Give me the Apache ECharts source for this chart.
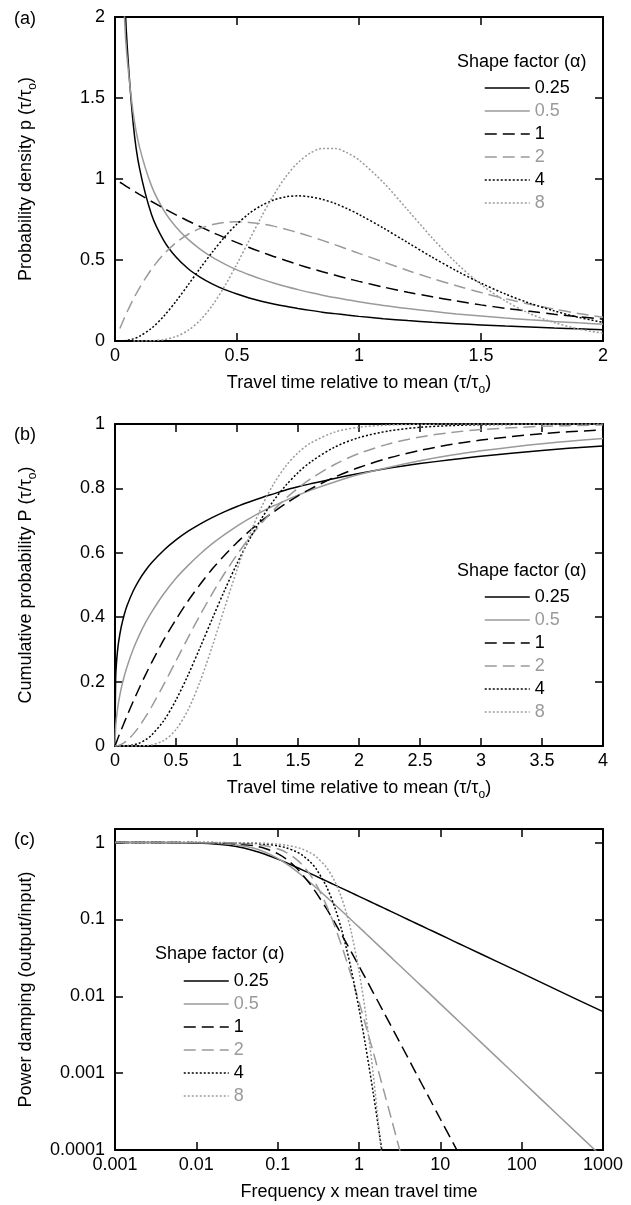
<!DOCTYPE html>
<html>
<head>
<meta charset="utf-8">
<script src="https://cdn.jsdelivr.net/npm/echarts@6/dist/echarts.min.js"></script>
<style>
  html, body { margin: 0; padding: 0; background: #fff; }
  #chart { width: 631px; height: 1205px; }
</style>
</head>
<body>
<div id="chart"></div>
<script>
// shape factors (alpha), one curve per value in every panel
const shapes = ['0.25', '0.5', '1', '2', '4', '8']

// (a) probability density vs travel time relative to mean
const tauA = [0.02, 0.04, 0.05, 0.075, 0.1, 0.15, 0.2, 0.25, 0.3, 0.35, 0.4, 0.45, 0.5, 0.55, 0.6, 0.65, 0.7, 0.75, 0.8, 0.85, 0.9, 0.95, 1.0, 1.1, 1.2, 1.3, 1.4, 1.5, 1.6, 1.7, 1.8, 1.9, 2.0]
const pdf025 = [3.648, 2.159, 1.821, 1.336, 1.070, 0.779, 0.620, 0.518, 0.446, 0.393, 0.351, 0.317, 0.290, 0.266, 0.246, 0.229, 0.214, 0.201, 0.189, 0.178, 0.169, 0.160, 0.152, 0.138, 0.126, 0.116, 0.107, 0.099, 0.092, 0.086, 0.080, 0.075, 0.070]
const pdf05 = [2.793, 1.955, 1.740, 1.403, 1.200, 0.956, 0.807, 0.704, 0.627, 0.566, 0.516, 0.475, 0.439, 0.409, 0.382, 0.358, 0.336, 0.317, 0.299, 0.283, 0.268, 0.255, 0.242, 0.219, 0.200, 0.183, 0.167, 0.154, 0.142, 0.131, 0.121, 0.112, 0.104]
const pdf1 = [0.980, 0.961, 0.951, 0.928, 0.905, 0.861, 0.819, 0.779, 0.741, 0.705, 0.670, 0.638, 0.607, 0.577, 0.549, 0.522, 0.497, 0.472, 0.449, 0.427, 0.407, 0.387, 0.368, 0.333, 0.301, 0.273, 0.247, 0.223, 0.202, 0.183, 0.165, 0.150, 0.135]
const pdf2 = [0.077, 0.148, 0.181, 0.258, 0.327, 0.444, 0.536, 0.607, 0.659, 0.695, 0.719, 0.732, 0.736, 0.732, 0.723, 0.709, 0.690, 0.669, 0.646, 0.621, 0.595, 0.568, 0.541, 0.488, 0.435, 0.386, 0.341, 0.299, 0.261, 0.227, 0.197, 0.170, 0.147]
const pdf4 = [0.0003, 0.0023, 0.0044, 0.0133, 0.0286, 0.079, 0.153, 0.245, 0.347, 0.451, 0.551, 0.643, 0.722, 0.787, 0.836, 0.870, 0.890, 0.896, 0.890, 0.874, 0.850, 0.818, 0.781, 0.697, 0.607, 0.517, 0.433, 0.357, 0.290, 0.233, 0.186, 0.146, 0.115]
const pdf8 = [null, null, null, 0.00002, 0.0002, 0.0017, 0.0086, 0.0275, 0.066, 0.130, 0.222, 0.340, 0.476, 0.622, 0.767, 0.900, 1.014, 1.101, 1.160, 1.189, 1.189, 1.163, 1.117, 0.978, 0.808, 0.636, 0.480, 0.349, 0.247, 0.169, 0.114, 0.074, 0.048]

// (b) cumulative probability
const tauB = [0, 0.005, 0.01, 0.02, 0.03, 0.05, 0.075, 0.1, 0.15, 0.2, 0.25, 0.3, 0.4, 0.5, 0.6, 0.7, 0.8, 0.9, 1.0, 1.1, 1.2, 1.3, 1.4, 1.5, 1.6, 1.8, 2.0, 2.25, 2.5, 2.75, 3.0, 3.5, 4.0]
const cdf025 = [0, 0.207, 0.247, 0.293, 0.324, 0.368, 0.407, 0.437, 0.482, 0.517, 0.545, 0.569, 0.608, 0.640, 0.667, 0.690, 0.710, 0.728, 0.744, 0.758, 0.771, 0.783, 0.795, 0.805, 0.814, 0.831, 0.846, 0.863, 0.877, 0.889, 0.900, 0.918, 0.932]
const cdf05 = [0, 0.056, 0.080, 0.112, 0.138, 0.177, 0.216, 0.248, 0.301, 0.345, 0.383, 0.416, 0.473, 0.521, 0.561, 0.597, 0.629, 0.657, 0.683, 0.706, 0.727, 0.746, 0.763, 0.779, 0.794, 0.820, 0.843, 0.866, 0.886, 0.903, 0.917, 0.939, 0.955]
const cdf1 = [0, 0.005, 0.010, 0.020, 0.030, 0.049, 0.072, 0.095, 0.139, 0.181, 0.221, 0.259, 0.330, 0.393, 0.451, 0.503, 0.551, 0.593, 0.632, 0.667, 0.699, 0.727, 0.753, 0.777, 0.798, 0.835, 0.865, 0.895, 0.918, 0.936, 0.950, 0.970, 0.982]
const cdf2 = [0, 0.0001, 0.0002, 0.0008, 0.0017, 0.0047, 0.0102, 0.0175, 0.0369, 0.0616, 0.0902, 0.1219, 0.1912, 0.2642, 0.3374, 0.4082, 0.4751, 0.5372, 0.5940, 0.6454, 0.6916, 0.7326, 0.7689, 0.8009, 0.8288, 0.8743, 0.9084, 0.9389, 0.9596, 0.9734, 0.9827, 0.9927, 0.9970]
const cdf4 = [0, 0, 0, 0, 0, 0.0001, 0.0003, 0.0008, 0.0034, 0.0091, 0.0190, 0.0338, 0.0788, 0.1429, 0.2213, 0.3081, 0.3975, 0.4848, 0.5665, 0.6406, 0.7058, 0.7619, 0.8094, 0.8488, 0.8811, 0.9281, 0.9576, 0.9788, 0.9897, 0.9951, 0.9977, 0.9995, 0.9999]
const cdf8 = [0, 0, 0, 0, 0, 0, 0, 0, 0, 0.0003, 0.0011, 0.0033, 0.0168, 0.0511, 0.1133, 0.2030, 0.3127, 0.4311, 0.5470, 0.6522, 0.7416, 0.8137, 0.8693, 0.9105, 0.9401, 0.9747, 0.9900, 0.9971, 0.9992, 0.9998, 1.0, 1.0, 1.0]

// (c) power damping vs frequency x mean travel time (log-log)
const freqC = [0.001, 0.003, 0.01, 0.02, 0.03, 0.05, 0.07, 0.1, 0.13, 0.17, 0.2, 0.25, 0.3, 0.4, 0.5, 0.6, 0.7, 0.8, 1, 1.2, 1.5, 2, 2.5, 3, 4, 5, 7, 10, 15, 20, 50, 100, 300, 1000]
const pow025 = [1.0, 0.9986, 0.9848, 0.9452, 0.8936, 0.7891, 0.7030, 0.6080, 0.5410, 0.4773, 0.4417, 0.3964, 0.3626, 0.3146, 0.2817, 0.2572, 0.2382, 0.2229, 0.1994, 0.1821, 0.1628, 0.1411, 0.1262, 0.1152, 0.0997, 0.0892, 0.0754, 0.0631, 0.0515, 0.0446, 0.0282, 0.0200, 0.0115, 0.0063]
const pow05 = [0.9999, 0.9993, 0.9922, 0.9698, 0.9357, 0.8467, 0.7508, 0.6227, 0.5221, 0.4240, 0.3697, 0.3033, 0.2564, 0.1951, 0.1572, 0.1315, 0.1130, 0.0990, 0.0793, 0.0662, 0.0530, 0.0398, 0.0318, 0.0265, 0.0199, 0.0159, 0.0114, 0.00796, 0.00531, 0.00398, 0.00159, 0.000796, 0.000265, 0.0000796]
const pow1 = [1.0, 0.9996, 0.9961, 0.9845, 0.9657, 0.9102, 0.8379, 0.7170, 0.5998, 0.4671, 0.3877, 0.2884, 0.2196, 0.1367, 0.0920, 0.0657, 0.0492, 0.0381, 0.0247, 0.0173, 0.0111, 0.00629, 0.00404, 0.00281, 0.00158, 0.00101, 0.000517, 0.000253, 0.000113, 0.0000633, 0.0000101, null, null, null]
const pow2 = [1.0, 0.9998, 0.9980, 0.9922, 0.9825, 0.9524, 0.9099, 0.8284, 0.7345, 0.6054, 0.5140, 0.3825, 0.2805, 0.1503, 0.0832, 0.0482, 0.0294, 0.0187, 0.00846, 0.00432, 0.00186, 0.000610, 0.000255, 0.000124, 0.0000396, null, null, null, null, null, null, null, null, null]
const pow4 = [1.0, 0.9999, 0.9990, 0.9961, 0.9912, 0.9757, 0.9531, 0.9071, 0.8492, 0.7592, 0.6863, 0.5634, 0.4483, 0.2642, 0.1463, 0.0787, 0.0420, 0.0226, 0.00692, 0.00233, 0.000543, 0.0000716, 0.0000138, null, null, null, null, null, null, null, null, null, null, null]
const pow8 = [1.0, 1.0, 0.9995, 0.9980, 0.9956, 0.9878, 0.9761, 0.9520, 0.9204, 0.8682, 0.8228, 0.7389, 0.6491, 0.4710, 0.3175, 0.2010, 0.1209, 0.0698, 0.0214, 0.00619, 0.000946, 0.0000479, null, null, null, null, null, null, null, null, null, null, null, null]

const FONT = "'Liberation Sans', Arial, Helvetica, sans-serif"
const BLACK = '#000'
const GRAY = '#9a9a9a'

const shapeStyle = {
  '0.25': { color: BLACK, type: 'solid' },
  '0.5': { color: GRAY, type: 'solid' },
  '1': { color: BLACK, type: [12, 6] },
  '2': { color: GRAY, type: [12, 6] },
  '4': { color: BLACK, type: [2, 2] },
  '8': { color: GRAY, type: [2, 2] }
}

const panels = [
  { x: tauA, ys: [pdf025, pdf05, pdf1, pdf2, pdf4, pdf8] },
  { x: tauB, ys: [cdf025, cdf05, cdf1, cdf2, cdf4, cdf8] },
  { x: freqC, ys: [pow025, pow05, pow1, pow2, pow4, pow8] }
]

const grids = [
  { left: 115, top: 17, width: 488, height: 324 },
  { left: 115, top: 424, width: 488, height: 322 },
  { left: 115, top: 829, width: 488, height: 321 }
]

const nameRich = {
  t: { fontSize: 18, fontFamily: FONT, color: BLACK, lineHeight: 26 },
  s: { fontSize: 12, fontFamily: FONT, color: BLACK, lineHeight: 12, verticalAlign: 'bottom' }
}

const frameLine = { show: true, onZero: false, lineStyle: { color: BLACK, width: 2 } }
const tickIn = { show: true, inside: true, length: 8, lineStyle: { color: BLACK, width: 1.5 } }
const labelStyle = { color: BLACK, fontSize: 18, fontFamily: FONT }

const logLabel = v => {
  const e = Math.log10(v)
  if (Math.abs(e - Math.round(e)) > 1e-6) return ''
  return String(+Number(v).toPrecision(6))
}

const xRanges = [
  { type: 'value', min: 0, max: 2, interval: 0.5 },
  { type: 'value', min: 0, max: 4, interval: 0.5 },
  { type: 'log', min: 0.001, max: 1000, logBase: 10 }
]
const yRanges = [
  { type: 'value', min: 0, max: 2, interval: 0.5 },
  { type: 'value', min: 0, max: 1, interval: 0.2 },
  { type: 'log', min: 0.0001, max: 1.5, logBase: 10 }
]
const xNames = [
  '{t|Travel time relative to mean (τ/τ}{s|o}{t|)}',
  '{t|Travel time relative to mean (τ/τ}{s|o}{t|)}',
  '{t|Frequency x mean travel time}'
]
const yNames = [
  '{t|Probability density p (τ/τ}{s|o}{t|)}',
  '{t|Cumulative probability P (τ/τ}{s|o}{t|)}',
  '{t|Power damping (output/input)}'
]

const xAxis = []
const yAxis = []
grids.forEach((g, i) => {
  const isLog = i === 2
  xAxis.push({
    ...xRanges[i], gridIndex: i, position: 'bottom',
    name: xNames[i], nameLocation: 'middle', nameGap: 29,
    nameTextStyle: { rich: nameRich },
    axisLine: frameLine, axisTick: tickIn, splitLine: { show: false },
    axisLabel: { ...labelStyle, margin: 6, formatter: isLog ? logLabel : null }
  })
  xAxis.push({
    ...xRanges[i], gridIndex: i, position: 'top',
    axisLine: frameLine, axisTick: tickIn, splitLine: { show: false },
    axisLabel: { show: false }
  })
  yAxis.push({
    ...yRanges[i], gridIndex: i, position: 'left',
    name: yNames[i], nameLocation: 'middle', nameGap: 76, nameRotate: 90,
    nameTextStyle: { rich: nameRich },
    axisLine: frameLine, axisTick: tickIn, splitLine: { show: false },
    axisLabel: { ...labelStyle, margin: 10, formatter: isLog ? logLabel : null }
  })
  yAxis.push({
    ...yRanges[i], gridIndex: i, position: 'right',
    axisLine: frameLine, axisTick: tickIn, splitLine: { show: false },
    axisLabel: { show: false }
  })
})

const series = []
panels.forEach((p, i) => {
  shapes.forEach((s, k) => {
    series.push({
      name: s,
      type: 'line',
      xAxisIndex: i * 2,
      yAxisIndex: i * 2,
      showSymbol: false,
      symbol: 'none',
      smooth: 0.3,
      clip: true,
      lineStyle: { color: shapeStyle[s].color, type: shapeStyle[s].type, width: 1.5 },
      itemStyle: { color: shapeStyle[s].color },
      data: p.x.map((x, j) => [x, p.ys[k][j]])
    })
  })
})

const makeLegend = (left, top) => ({
  left, top, orient: 'vertical', padding: 0,
  itemWidth: 45, itemHeight: 14, itemGap: 5,
  selectedMode: false,
  itemStyle: { opacity: 0 },
  lineStyle: { width: 'inherit' },
  textStyle: { fontSize: 18, fontFamily: FONT },
  data: shapes.map(s => ({ name: s, textStyle: { color: shapeStyle[s].color } }))
})

const makeText = (text, left, top) => ({
  text, left, top, padding: 0,
  textStyle: { fontSize: 18, fontWeight: 'normal', fontFamily: FONT, color: BLACK }
})

const chart = echarts.init(document.getElementById('chart'))
chart.setOption({
  animation: false,
  backgroundColor: '#fff',
  title: [
    makeText('(a)', 14, 10),
    makeText('(b)', 14, 426),
    makeText('(c)', 14, 831),
    makeText('Shape factor (α)', 457, 53),
    makeText('Shape factor (α)', 457, 562),
    makeText('Shape factor (α)', 155, 945)
  ],
  legend: [makeLegend(484, 79), makeLegend(484, 588), makeLegend(183, 972)],
  grid: grids,
  xAxis,
  yAxis,
  series
})
</script>
</body>
</html>
